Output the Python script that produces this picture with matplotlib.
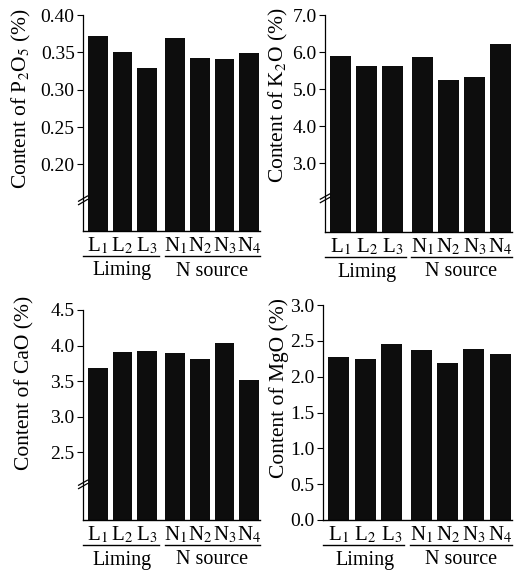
import matplotlib
matplotlib.use("Agg")
import matplotlib.pyplot as plt
import matplotlib.transforms as mtransforms
import numpy as np

plt.rcParams['font.family'] = ['Liberation Serif', 'DejaVu Serif']
plt.rcParams['mathtext.fontset'] = 'stix'

categories = ["L$_1$", "L$_2$", "L$_3$", "N$_1$", "N$_2$", "N$_3$", "N$_4$"]
groups = ["Liming", "N source"]
group_sizes = [3, 4]

p2o5 = [0.372, 0.350, 0.329, 0.369, 0.342, 0.341, 0.349]
k2o = [5.88, 5.62, 5.62, 5.86, 5.24, 5.32, 6.22]
cao = [3.68, 3.91, 3.92, 3.90, 3.81, 4.03, 3.52]
mgo = [2.28, 2.25, 2.46, 2.37, 2.19, 2.39, 2.31]

p2o5_ticks = [0.20, 0.25, 0.30, 0.35, 0.40]
k2o_ticks = [3.0, 4.0, 5.0, 6.0, 7.0]
cao_ticks = [2.5, 3.0, 3.5, 4.0, 4.5]
mgo_ticks = [0.0, 0.5, 1.0, 1.5, 2.0, 2.5, 3.0]

W, H = 520, 576
fig = plt.figure(figsize=(W / 100, H / 100), dpi=100)

panels = [
    dict(rect=(83, 15, 260, 231), vals=p2o5, ticks=p2o5_ticks, fmt="{:.2f}",
         ylim=(0.111, 0.40), brk=0.152, label="Content of P$_2$O$_5$ (%)", ylx=21, yltop=8),
    dict(rect=(325, 15, 512, 232), vals=k2o, ticks=k2o_ticks, fmt="{:.1f}",
         ylim=(1.14, 7.0), brk=2.05, label="Content of K$_2$O (%)", ylx=278, yltop=8),
    dict(rect=(83, 310, 260, 520), vals=cao, ticks=cao_ticks, fmt="{:.1f}",
         ylim=(1.55, 4.5), brk=2.05, label="Content of CaO (%)", ylx=25, yltop=296),
    dict(rect=(323, 305, 512, 520), vals=mgo, ticks=mgo_ticks, fmt="{:.1f}",
         ylim=(0.0, 3.0), brk=None, label="Content of MgO (%)", ylx=279, yltop=298),
]

# x positions: index within groups, with an extra gap between groups
xpos = []
gi = 0
for g, n in enumerate(group_sizes):
    for k in range(n):
        xpos.append(gi + 0.15 * g)
        gi += 1
xpos = np.array(xpos)
barw = 0.8
xl = (xpos[0] - 0.6, xpos[-1] + 0.45)

for p in panels:
    x0, y0, x1, y1 = p["rect"]
    ax = fig.add_axes([x0 / W, (H - y1) / H, (x1 - x0) / W, (y1 - y0) / H])
    ax.bar(xpos, np.array(p["vals"]) - p["ylim"][0], bottom=p["ylim"][0],
           width=barw, color="#0d0d0d", edgecolor="none")
    ax.set_xlim(*xl)
    ax.set_ylim(*p["ylim"])
    ax.set_yticks(p["ticks"])
    ax.set_yticklabels([p["fmt"].format(t) for t in p["ticks"]], fontsize=14)
    ax.set_xticks(xpos)
    ax.set_xticklabels(categories, fontsize=15)
    ax.tick_params(axis="x", length=0, pad=3)
    ax.tick_params(axis="y", length=4, width=0.8, pad=2, direction="out")
    for s in ("top", "right"):
        ax.spines[s].set_visible(False)
    ax.spines["left"].set_linewidth(0.9)
    ax.spines["bottom"].set_linewidth(1.0)

    ax_h = y1 - y0
    # y label
    fig.text(p["ylx"] / W, 1 - p["yltop"] / H, p["label"], rotation=90,
             ha="center", va="top", fontsize=15.5)

    # group underline and labels
    trans = mtransforms.blended_transform_factory(ax.transData, ax.transAxes)
    start = 0
    for g, n in enumerate(group_sizes):
        if g == 0:
            xa = xl[0]
            xb = xpos[start + n - 1] + 0.5
        else:
            xa = xpos[start] - 0.42
            xb = xl[1]
        ax.plot([xa, xb], [-25 / ax_h, -25 / ax_h], transform=trans,
                color="black", lw=1.0, clip_on=False)
        ax.text((xpos[start] + xpos[start + n - 1]) / 2, -40 / ax_h, groups[g],
                transform=trans, ha="center", va="center", fontsize=14.5)
        start += n

    # axis break mark
    if p["brk"] is not None:
        bt = mtransforms.blended_transform_factory(ax.transAxes, ax.transData)
        rng = p["ylim"][1] - p["ylim"][0]
        for dy in (-0.008, 0.008):
            yb = p["brk"] + dy * rng
            ax.plot([-0.025, 0.025], [yb - 0.012 * rng, yb + 0.012 * rng],
                    transform=bt, color="black", lw=0.9, clip_on=False)

fig.savefig("out.png", dpi=100)
